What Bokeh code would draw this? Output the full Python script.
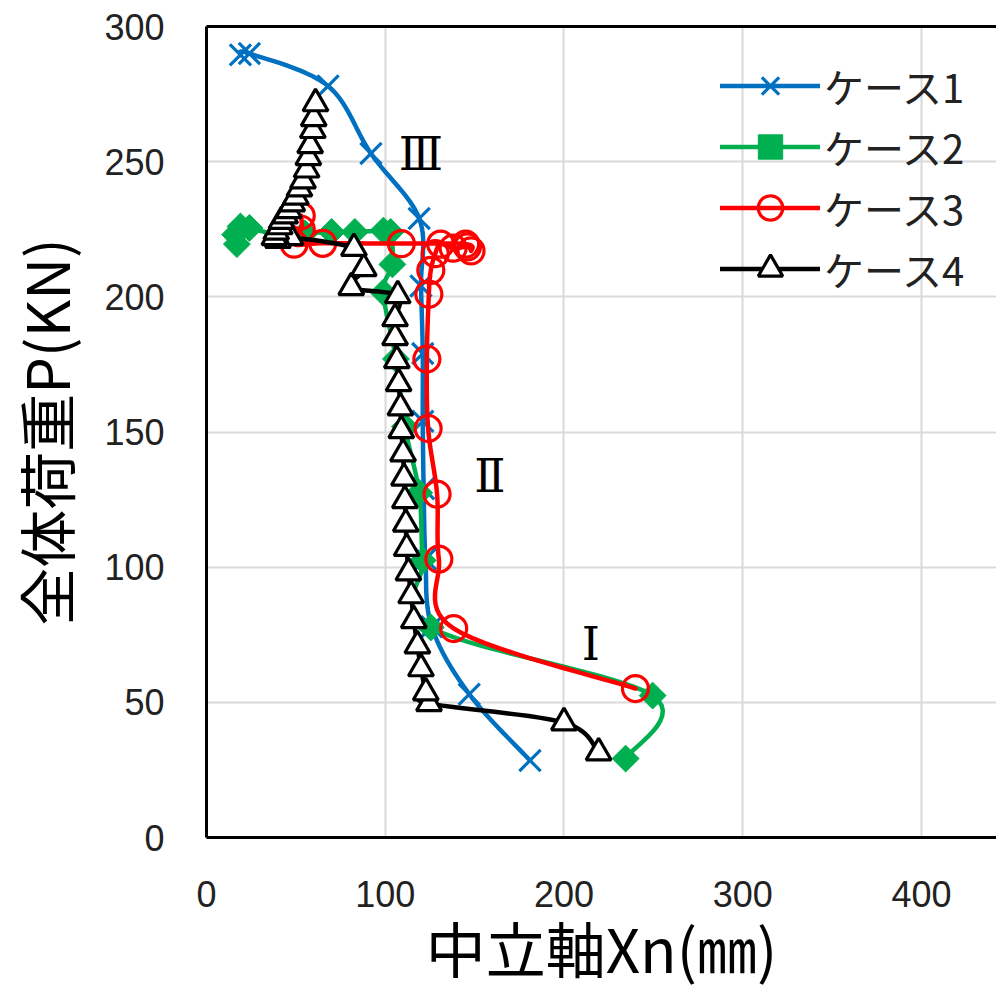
import numpy as np
from bokeh.plotting import figure
from bokeh.models import Range1d, FixedTicker, LinearAxis, Legend, LegendItem, Label
from bokeh.embed import file_html
from bokeh.resources import INLINE

# ---- measured values: neutral axis depth Xn (mm) vs. total load P (kN) ----
case1_x = [181, 147, 126, 122.5, 121.5, 121, 121, 120, 119, 92, 68, 24, 19]
case1_y = [28.5, 53, 78, 103, 129, 154, 179, 204, 229, 253, 278, 290, 289.5]

case2_x = [234.5, 249.6, 125.5, 121, 119, 111, 106, 99, 104, 103, 99, 83, 70, 55, 40, 24, 19, 16, 17]
case2_y = [29.2, 52.5, 77.7, 102.5, 127.5, 152, 177, 201.6, 212, 224, 224.5, 224, 224, 223.5, 223, 225.5, 226, 223, 219.5]

case3_x = [240, 138.3, 130, 129, 124, 123.3, 124.4, 125.5, 128, 131, 138, 146, 148, 145, 109, 65, 49, 53, 53]
case3_y = [55.1, 77.3, 103, 127, 151.3, 177, 201, 209.8, 216, 219.5, 218, 218.5, 217, 219.5, 219.7, 219.8, 219.5, 225, 230]

case4_x = [219.4, 200, 124.5, 122.7, 120, 118, 116, 114.5, 113, 112, 111.5, 111, 110.5, 110, 109,
           108.5, 107.5, 106.5, 105.5, 105.5, 107, 81, 88, 82.5, 47, 40, 38, 39, 41, 42, 44, 46,
           48, 50, 52, 54, 56, 57, 58, 59.5, 60, 61]
case4_y = [31.4, 42.5, 49.6, 53.6, 62.5, 71, 80.3, 89.5, 98, 107, 116, 124.7, 133, 142, 150.6,
           159, 168, 176.5, 185, 192, 200.5, 203.5, 210.5, 218, 222, 221, 222, 224, 226, 228, 230, 232,
           234.5, 237, 240, 243, 247, 251.6, 256, 261.6, 266, 271.5]

series_names = ["ケース1", "ケース2", "ケース3", "ケース4"]
x_ticks = [0, 100, 200, 300, 400]
y_ticks = [0, 50, 100, 150, 200, 250, 300]
stage_labels = ["Ⅰ", "Ⅱ", "Ⅲ"]

JP_FONT = "Noto Sans CJK JP"
NUM_FONT = "Liberation Sans"


def smooth_path(xs, ys, steps=14):
    """Cardinal-spline path (Bezier, 1/6 tangents) through the given points."""
    pts = np.column_stack([xs, ys]).astype(float)
    n = len(pts)
    out = [pts[0]]
    t = np.linspace(0, 1, steps + 1)[1:, None]
    for i in range(n - 1):
        p0 = pts[max(i - 1, 0)]
        p1 = pts[i]
        p2 = pts[i + 1]
        p3 = pts[min(i + 2, n - 1)]
        c1 = p1 + (p2 - p0) / 6.0
        c2 = p2 - (p3 - p1) / 6.0
        seg = ((1 - t) ** 3) * p1 + 3 * ((1 - t) ** 2) * t * c1 + 3 * (1 - t) * t ** 2 * c2 + t ** 3 * p2
        out.extend(seg)
    out = np.array(out)
    return out[:, 0], out[:, 1]


p = figure(width=996, height=992,
           x_range=Range1d(0, 442), y_range=Range1d(0, 300),
           output_backend="svg", toolbar_location=None,
           min_border_left=206, min_border_right=0,
           min_border_top=26, min_border_bottom=155,
           background_fill_color="white", border_fill_color="white")
p.outline_line_color = None

# grid
p.xgrid.ticker = FixedTicker(ticks=x_ticks)
p.ygrid.ticker = FixedTicker(ticks=y_ticks)
for g in (p.xgrid, p.ygrid):
    g.grid_line_color = "#d9d9d9"
    g.grid_line_width = 2

# axes
p.xaxis.ticker = FixedTicker(ticks=x_ticks)
p.yaxis.ticker = FixedTicker(ticks=y_ticks)
for ax in (p.xaxis, p.yaxis):
    ax.axis_line_color = "black"
    ax.axis_line_width = 3
    ax.major_tick_line_color = None
    ax.minor_tick_line_color = None
    ax.major_label_text_font = NUM_FONT
    ax.major_label_text_font_size = "36px"
    ax.major_label_text_color = "#222222"
    ax.axis_label_text_font = JP_FONT
    ax.axis_label_text_font_style = "normal"
    ax.axis_label_text_color = "black"

p.xaxis.axis_label = "中立軸Xn(㎜)"
p.yaxis.axis_label = "全体荷重P(KN)"
p.xaxis.axis_label_text_font_size = "60px"
p.yaxis.axis_label_text_font_size = "58px"
p.xaxis.major_label_standoff = 37
p.yaxis.major_label_standoff = 36
p.xaxis.axis_label_standoff = -7
p.yaxis.axis_label_standoff = 14

top_axis = LinearAxis(ticker=FixedTicker(ticks=[]), axis_line_color="black", axis_line_width=3,
                      major_tick_line_color=None, minor_tick_line_color=None,
                      major_label_text_font_size="0px")
p.add_layout(top_axis, "above")

styles = [
    dict(x=case1_x, y=case1_y, color="#0070C0", marker="x", size=30, fill=None),
    dict(x=case2_x, y=case2_y, color="#00B050", marker="square", size=19, fill="#00B050"),
    dict(x=case3_x, y=case3_y, color="#FF0000", marker="circle", size=26, fill=None),
    dict(x=case4_x, y=case4_y, color="black", marker="triangle", size=25, fill="white"),
]

items = []
for name, s in zip(series_names, styles):
    sx, sy = smooth_path(s["x"], s["y"])
    lr = p.line(sx, sy, line_color=s["color"], line_width=4.5, line_join="round", line_cap="round")
    kw = dict(marker=s["marker"], size=s["size"], line_color=s["color"], line_width=3.2)
    if s["fill"] is None:
        kw["fill_alpha"] = 0
    else:
        kw["fill_color"] = s["fill"]
    if s["marker"] == "square":
        kw["angle"] = np.pi / 4
        kw["line_width"] = 1
    mr = p.scatter(s["x"], s["y"], **kw)
    items.append(LegendItem(label=name, renderers=[lr, mr]))

legend = Legend(items=items, location=(514, 538), orientation="vertical",
                glyph_width=100, glyph_height=61, spacing=0, padding=0, margin=0,
                label_standoff=4, label_text_font=JP_FONT, label_text_font_size="40px",
                label_text_color="#222222",
                background_fill_alpha=0, border_line_color=None)
p.add_layout(legend, "center")

# loading stage labels
for txt, lx, ly in zip(stage_labels, [215, 158.5, 120], [71.4, 133.6, 252.7]):
    p.add_layout(Label(x=lx, y=ly, text=txt, text_font="DejaVu Serif", text_font_size="46px",
                       text_align="center", text_baseline="middle", text_color="black"))

open("out.html", "w").write(file_html(p, INLINE))
